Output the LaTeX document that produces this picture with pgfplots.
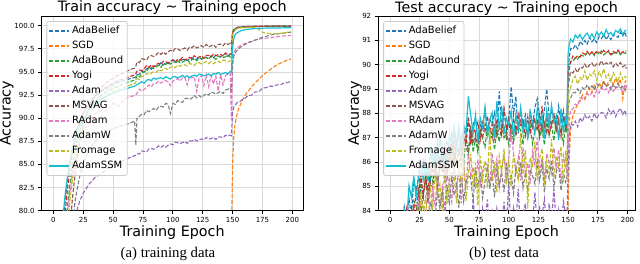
\documentclass[border=0pt]{standalone}
\usepackage{pgfplots}
\pgfplotsset{compat=1.18}
\usepackage{pgfplotstable}
\usepackage{fontspec}
\setmainfont{DejaVu Sans}
\newfontfamily\capfont{Liberation Serif}

\definecolor{cBelief}{HTML}{1F77B4}
\definecolor{cSGD}{HTML}{FF7F0E}
\definecolor{cBound}{HTML}{2CA02C}
\definecolor{cYogi}{HTML}{D62728}
\definecolor{cAdam}{HTML}{9467BD}
\definecolor{cMSVAG}{HTML}{8C564B}
\definecolor{cRAdam}{HTML}{E377C2}
\definecolor{cAdamW}{HTML}{7F7F7F}
\definecolor{cFromage}{HTML}{BCBD22}
\definecolor{cSSM}{HTML}{17BECF}
\definecolor{gridc}{HTML}{DADADA}
\definecolor{legc}{HTML}{CCCCCC}

% ---------------- training accuracy ----------------
\pgfplotstableread{
e abl abd yog adm msv rad adw fro ssm
0 65 60.5 63 45 54.5 59.6 51 57.9 65.7
5 73.2 69 71.5 55 63 68 59.6 66.4 74.2
8 78.3 74 76.6 62 68 73.2 64.7 71.5 79.3
10 81.3 77.5 80.0 66 71.5 76.6 68 75 81.9
12 83.5 80.65 82.55 70 75 80 71.5 78.3 83.85
14 85.4 83.0 84.65 73 78.3 82.2 75 81.3 85.5
16 86.8 84.9 86.3 75.5 81.4 84.0 78.3 83.4 86.7
18 88.0 86.4 87.65 78.5 83.8 85.4 80.9 85.2 87.75
20 89.0 87.7 88.7 80.2 85.8 86.5 82.4 86.6 88.65
22 89.7 88.6 89.6 81.0 87.4 87.4 83.65 87.7 89.2
25 90.5 89.7 90.5 81.9 89.3 88.45 85.1 89.1 89.95
30 91.6 91.0 91.6 82.9 91.2 89.6 86.6 90.4 90.9
35 92.35 91.8 92.45 83.6 92.4 90.4 87.5 91.35 91.5
40 92.9 92.5 93.05 84.0 93.3 90.9 88.1 92.0 92.05
45 93.2 92.9 93.4 84.5 93.9 90.8 88.55 92.5 92.4
50 93.6 93.2 93.8 84.9 94.3 91.65 88.85 92.85 92.7
55 93.9 93.5 94.1 85.2 94.7 91.3 89.1 93.2 92.95
60 94.1 93.8 94.3 85.5 95.0 92.15 89.3 93.4 93.15
65 94.3 94.0 94.55 85.8 95.3 92.35 89.5 93.6 93.35
68 94.4 94.1 94.65 85.95 95.4 92.45 89.7 93.75 93.45
69 94.5 94.2 94.8 86.0 95.6 92.5 87.1 93.9 93.55
70 94.7 94.6 95.1 86.18 96.1 92.7 90.0 94.28 93.62
72 94.76 94.46 95.22 86.12 96.02 93.14 90.22 94.16 93.78
74 95.12 94.82 95.14 86.46 96.44 92.9 90.44 94.52 93.94
76 94.98 95.08 95.36 86.4 96.36 93.12 90.38 94.56 93.78
78 95.34 95.04 95.68 86.34 96.28 93.36 90.84 94.84 94.1
80 95.5 95.5 95.5 86.68 96.7 93.6 90.7 94.72 94.18
82 95.28 95.48 95.76 86.74 96.78 93.38 90.88 94.88 94.06
84 95.66 95.36 95.52 86.64 96.66 93.76 91.06 95.04 94.34
86 95.64 95.54 95.78 86.78 96.84 93.74 90.84 94.96 94.22
88 95.62 95.72 95.94 87.0 97.12 94.02 91.22 95.28 94.34
90 96.0 95.5 95.8 86.82 96.9 93.8 91.3 95.12 94.38
92 95.76 95.86 96.16 87.04 97.16 93.94 91.2 95.26 94.24
94 96.02 95.82 96.12 86.86 96.92 94.08 91.6 95.4 94.5
96 95.88 96.08 95.98 87.08 97.18 93.92 91.5 95.22 94.36
98 96.04 95.84 96.14 87.22 97.34 93.5 90.5 95.52 94.22
100 96.3 96.0 96.3 87.12 97.2 94.0 91.6 95.58 94.48
102 96.24 96.14 96.04 87.4 97.54 94.14 91.5 95.46 94.5
104 96.18 95.98 96.38 87.36 97.48 94.28 91.9 95.74 94.36
106 96.02 96.32 96.32 87.24 97.32 94.02 91.8 95.62 94.46
108 96.36 96.06 96.56 87.36 97.46 94.36 91.7 95.74 94.64
110 96.3 96.2 96.3 87.48 97.6 94.4 92.1 95.78 94.42
112 96.22 96.32 96.44 87.28 97.34 93.6 92.16 95.66 94.6
114 96.44 96.04 96.58 87.56 97.68 94.54 92.02 95.94 94.38
116 96.56 96.36 96.42 87.52 97.62 94.36 92.18 95.82 94.56
118 96.28 96.38 96.76 87.72 97.86 94.48 92.44 95.7 94.66
120 96.4 96.2 96.5 87.52 97.6 92.9 92.2 95.98 94.52
122 96.64 96.54 96.62 87.64 97.72 94.32 92.46 96.0 94.78
124 96.38 96.38 96.74 87.76 97.84 94.64 92.22 95.86 94.72
126 96.62 96.56 96.46 87.64 97.66 93.5 92.48 95.96 94.58
128 96.56 96.56 96.78 87.92 97.98 94.68 92.64 96.14 94.68
130 96.4 96.4 96.8 87.72 97.7 93.4 92.5 95.92 94.78
132 96.72 96.72 96.62 87.82 97.82 94.62 92.84 96.1 94.56
134 96.54 96.54 96.94 87.92 97.94 93.7 92.74 95.88 94.82
136 96.86 96.36 96.74 87.7 97.66 94.56 92.62 96.06 94.76
138 96.68 96.68 96.88 87.96 97.98 92.9 92.76 96.16 94.94
140 96.6 96.7 96.9 87.98 98.0 94.7 92.9 96.02 94.72
142 96.82 96.52 96.72 87.87 97.82 93.6 92.67 96.28 94.82
144 96.95 96.65 97.05 88.16 98.15 94.6 93.05 96.23 94.93
146 96.67 96.87 96.87 88.05 97.97 94.75 93.12 96.09 94.79
148 96.9 96.6 96.95 88.18 98.1 94.9 93.3 96.2 95.06
149 96.85 96.7 96.9 88.1 98.0 89.8 93.0 96.2 95.0
150 99.1 99.0 99.2 90.6 99.3 95.8 95.8 99.0 97.6
151 99.45 99.4 99.5 91.2 99.6 97.0 96.7 99.35 98.6
152 99.65 99.6 99.65 91.4 99.7 97.3 97.0 99.5 99.0
153 99.72 99.68 99.74 91.55 99.78 97.5 97.2 99.6 99.15
154 99.78 99.74 99.8 91.7 99.82 97.6 97.35 99.68 99.25
156 99.83 99.8 99.84 91.8 99.86 97.8 97.6 99.74 99.4
158 99.86 99.84 99.87 92.0 99.88 97.95 97.8 99.78 99.5
160 99.88 99.86 99.89 92.1 99.9 98.05 97.95 99.8 99.56
163 99.9 99.88 99.9 92.45 99.92 98.2 98.15 99.8 99.62
166 99.91 99.9 99.91 92.5 99.93 98.3 98.3 99.82 99.66
169 99.92 99.91 99.92 92.85 99.94 98.45 98.45 99.8 99.7
172 99.93 99.92 99.93 92.85 99.95 98.55 98.6 99.6 99.72
175 99.93 99.93 99.94 93.25 99.95 98.6 98.75 99.3 99.73
178 99.94 99.93 99.94 93.3 99.96 98.65 98.85 99.18 99.74
181 99.94 99.94 99.95 93.45 99.96 98.7 98.95 99.15 99.75
184 99.95 99.94 99.95 93.45 99.96 98.75 99.05 99.12 99.75
187 99.95 99.95 99.95 93.6 99.97 98.8 99.1 99.15 99.76
190 99.95 99.95 99.96 93.6 99.97 98.85 99.15 99.18 99.76
193 99.96 99.95 99.96 93.8 99.97 98.9 99.2 99.22 99.77
196 99.96 99.96 99.96 93.85 99.97 98.92 99.25 99.3 99.77
199 99.96 99.96 99.96 94.0 99.97 98.95 99.3 99.35 99.78
}\trainT

\pgfplotstableread{
e v
0 30
148 76
149 76.5
150 85.0
151 88.0
152 89.3
153 90.0
155 91.0
158 91.9
160 92.4
163 92.9
166 93.4
169 93.85
172 94.2
175 94.6
178 94.9
181 95.2
184 95.5
187 95.75
190 95.95
193 96.1
196 96.3
199 96.4
}\trainSGD

% ---------------- test accuracy ----------------
\pgfplotstableread{
e abl abd yog adm msv rad adw fro ssm
0 75 74 74 70 73 72 71 72 75
8 81.8 80.8 81 78 80.5 80 79.5 80 82
12 84.16 83.52 82.51 81.3 83.06 81.3 80.96 82.99 84.01
14 83.55 82.62 84.03 80.55 82.62 82.53 82.1 81.78 83.54
16 84.48 83.64 83.37 81.4 83.64 83.25 82.06 82.87 85.03
18 83.8 83.06 84.12 80.25 82.78 82.08 83.11 81.99 84.56
20 85.29 84.4 83.67 82.1 84.08 83.4 82.08 83.96 85.42
22 84.75 84.2 84.9 81.26 83.86 83.04 83.41 83.48 84.53
24 85.47 84.0 84.59 82.72 84.83 84.58 82.85 82.89 85.39
26 84.79 85.24 85.47 81.88 83.91 83.12 84.09 84.72 86.04
28 86.14 84.56 84.6 82.44 84.74 84.16 82.99 83.8 85.29
30 85.32 85.56 85.41 81.5 85.22 83.9 83.78 84.64 86.08
32 85.86 84.32 84.78 83.1 84.31 84.82 82.91 83.2 85.2
34 85.21 85.56 85.83 81.9 85.15 83.44 84.38 85.06 86.49
36 86.38 85.2 85.62 82.8 84.94 84.86 83.96 84.06 85.89
38 86.01 86.2 85.41 83.2 86.06 84.18 83.45 85.59 86.55
40 86.83 85.04 86.46 83.1 85.08 85.5 84.92 84.59 85.81
42 85.86 85.86 85.79 82.06 85.81 84.18 84.1 85.09 87.08
44 86.57 86.28 86.59 83.82 85.63 84.96 84.72 83.94 86.18
46 85.88 85.18 85.5 82.78 86.29 83.94 83.54 85.65 86.68
48 86.87 86.08 86.58 83.64 85.34 85.52 85.06 84.28 85.99
50 86.6 85.78 86.26 82.2 86.35 85.0 84.24 85.22 87.12
52 86.33 86.98 87.13 83.24 85.89 84.36 85.47 85.61 86.71
54 87.32 85.78 86.11 83.98 86.83 85.92 84.63 85.45 87.49
56 86.63 86.58 86.84 82.72 85.95 84.98 85.05 84.3 86.52
58 87.41 86.34 87.22 83.66 86.54 85.64 84.12 86.23 87.23
60 86.3 87.06 86.27 82.3 85.87 84.3 85.53 85.08 86.54
62 87.36 85.92 87.03 84.04 87.0 85.94 84.4 86.0 87.51
64 87.02 87.02 86.74 83.08 86.66 84.98 85.16 84.39 87.22
66 87.87 86.44 87.78 83.92 86.25 86.32 85.47 85.53 88.7
68 86.83 87.46 86.72 82.76 87.38 85.36 85.33 86.34 87.9
70 87.54 86.4 87.41 84.5 86.76 85.8 84.38 84.95 87.19
72 87.8 86.95 87.19 83.19 87.12 84.91 85.78 85.95 87.93
74 86.94 86.38 87.63 83.73 86.62 86.11 85.01 84.2 86.78
76 87.58 87.25 86.92 82.74 87.32 85.07 85.57 86.25 87.8
78 87.32 86.96 87.61 84.09 86.98 85.71 84.52 85.25 87.42
80 88.2 86.61 87.25 83.46 87.56 85.95 85.22 86.05 88.23
82 87.24 87.49 87.9 84.46 87.26 85.89 85.81 84.95 87.11
84 87.78 86.94 87.2 83.11 87.42 85.01 84.9 87.4 87.74
86 87.54 87.27 87.55 83.92 86.98 86.37 85.53 85.25 88.02
88 88.02 86.5 87.0 82.93 87.58 85.49 84.55 85.85 86.97
90 87.12 87.38 87.75 84.1 87.06 86.13 85.74 84.75 88.5
92 88.9 86.83 87.45 83.65 87.38 84.93 85.04 86.25 87.32
94 87.42 87.55 87.1 83.2 87.5 85.73 85.6 85.55 88.3
96 88.14 87.0 88.2 84.37 87.42 86.29 84.76 86.55 87.18
98 87.3 87.22 87.35 83.38 86.98 85.25 85.95 85.05 87.81
100 87.72 86.71 87.7 85.2 87.81 86.12 85.07 86.1 87.53
102 89.1 87.54 87.0 82.85 87.37 87.2 85.49 85.0 88.09
104 87.96 86.82 87.8 84.11 87.69 86.36 84.72 86.3 87.04
106 88.7 87.26 87.3 83.57 87.09 85.56 85.77 85.8 87.95
108 87.18 87.43 87.95 84.9 87.49 86.2 85.28 85.3 87.39
110 88.18 87.32 87.45 83.12 87.77 85.24 85.98 87.2 88.23
112 87.58 86.71 87.65 83.93 87.25 86.6 84.93 85.5 87.25
114 87.94 87.65 87.1 84.29 87.61 85.48 85.56 86.5 87.74
116 87.1 87.04 87.85 82.94 87.05 85.96 84.79 84.1 87.02
118 88.06 87.48 87.2 83.84 87.73 85.08 85.7 86.2 88.07
120 87.46 86.75 87.65 83.49 87.43 86.43 85.45 85.75 87.65
122 88.24 87.31 87.8 84.75 87.75 85.87 85.1 86.85 87.16
124 88.6 87.69 87.7 83.31 87.27 87.0 86.01 85.25 88.21
126 87.88 86.98 87.15 84.12 87.95 85.47 85.24 86.15 87.51
128 87.22 87.47 88.3 83.76 87.39 86.19 85.94 86.55 87.93
130 88.17 86.7 87.45 84.48 87.63 85.31 84.75 85.05 86.95
132 89.0 87.64 87.85 83.13 87.19 86.35 85.73 86.05 88.12
134 87.87 87.09 87.1 84.3 87.79 85.95 85.31 85.55 87.42
136 88.05 87.53 87.6 83.58 87.51 85.55 86.08 86.95 88.33
138 87.93 86.87 87.95 84.9 87.91 86.59 84.96 85.35 87.63
140 87.27 87.8 87.3 83.4 87.31 85.71 85.59 86.25 87.91
142 88.29 87.03 87.75 84.03 87.67 86.51 85.87 85.85 86.9
144 87.63 87.36 87.05 83.04 87.23 85.15 84.82 86.65 88.19
146 88.11 86.76 87.9 84.39 87.75 86.27 85.52 85.15 87.28
148 87.21 87.58 87.4 83.85 87.55 85.79 85.17 86.45 87.84
149 87.8 87.2 87.6 83.5 87.7 85.6 85.4 85.8 87.5
150 89.9 89.4 89.6 85.8 89.1 86.8 88.2 88.6 90.5
151 90.3 89.85 90.0 87.0 89.45 87.6 88.55 89.0 90.85
152 90.67 90.14 90.08 87.56 89.7 88.14 88.61 89.03 91.05
154 90.63 90.14 90.35 87.51 89.66 88.18 88.85 89.4 90.93
156 90.81 90.28 90.26 87.68 89.83 88.38 88.84 89.53 91.22
158 90.65 90.22 90.37 87.45 89.68 88.32 89.01 89.2 91.09
160 90.96 90.4 90.31 87.82 89.9 88.64 88.83 89.48 91.24
162 90.84 90.37 90.48 87.65 89.86 88.6 89.06 89.37 91.03
164 90.99 90.34 90.43 87.94 90.02 88.55 88.97 89.74 91.19
166 90.84 90.49 90.55 87.77 89.86 88.82 89.18 89.36 91.3
168 91.12 90.4 90.42 87.88 89.99 88.72 88.99 89.61 91.12
170 90.94 90.52 90.53 87.69 90.07 88.86 89.13 89.53 91.26
172 91.05 90.37 90.43 88.01 89.9 88.68 88.99 89.74 91.07
174 90.91 90.51 90.56 87.77 90.03 88.95 89.22 89.37 91.34
176 91.15 90.45 90.51 87.95 89.98 88.83 89.14 89.71 91.21
178 91.07 90.56 90.46 88.03 90.16 89.06 89.04 89.52 91.34
180 91.24 90.4 90.59 88.01 89.98 88.94 89.27 89.83 91.18
182 91.03 90.49 90.48 87.81 90.08 89.01 89.1 89.46 91.44
184 91.18 90.53 90.58 88.17 90.02 88.85 89.18 89.61 91.24
186 91.03 90.38 90.41 87.97 90.1 89.09 88.97 89.32 91.33
188 91.24 90.48 90.55 88.15 89.91 88.9 89.2 89.67 91.18
190 91.18 90.43 90.49 87.87 90.06 89.03 89.04 89.5 91.41
192 91.12 90.57 90.6 88.07 89.95 89.09 89.22 89.31 91.32
194 91.33 90.41 90.44 88.21 90.09 89.07 89.05 89.66 91.47
196 91.18 90.5 90.53 87.95 89.91 88.91 89.1 89.39 91.25
198 91.35 90.46 90.57 88.13 89.98 89.18 88.94 89.52 91.4
199 91.1 90.54 90.56 87.85 89.84 89.02 89.15 89.45 91.42
}\testT

\pgfplotstableread{
e v
0 70
148 82.0
149 82.2
150 84.3
151 86.3
152 87.3
154 87.9
156 88.15
158 88.4
160 88.5
162 88.75
164 88.6
166 88.9
168 89.05
170 88.85
172 89.15
174 88.95
176 89.25
178 89.1
180 89.35
182 89.1
184 89.3
186 89.4
188 89.15
190 89.45
192 89.2
194 89.4
196 88.6
198 89.3
199 89.35
}\testSGD

\pgfplotsset{
  accaxis/.style={
    scale only axis, anchor=south west, height=194.7pt,
    xmin=-9.95,
    xtick={0,25,...,200},
    grid=major,
    major grid style={line width=0.8pt, draw=gridc},
    axis line style={line width=0.8pt},
    tick align=outside, tick pos=left,
    major tick length=3.5pt,
    every tick/.style={black, line width=0.8pt},
    ticklabel style={font=\fontsize{7}{8}\selectfont},
    /pgf/number format/assume math mode=true,
    every axis title shift=0pt,
    title style={font=\fontsize{14.3}{15}\selectfont, anchor=base, at={(0.5,1)}, yshift=4pt},
    xlabel={Training Epoch},
    ylabel={Accuracy},
    xlabel style={font=\fontsize{14.3}{15}\selectfont, at={(axis description cs:0.5,-0.1335)}, anchor=base},
    legend cell align=left,
    legend style={anchor=north west, draw=legc, line width=0.8pt, fill=white,
      fill opacity=0.8, draw opacity=1, text opacity=1, rounded corners=2pt,
      font=\fontsize{10}{10}\selectfont, inner xsep=2pt, inner ysep=2pt, row sep=0pt,
      nodes={text height=7.5pt, text depth=2.5pt, inner ysep=2.5pt}},
    legend image code/.code={\draw[#1] (0pt,0pt) -- (20pt,0pt);},
  },
  dsh/.style={line width=1.1pt, dash pattern=on 4pt off 1.8pt},
  sld/.style={line width=1.2pt},
}

\begin{document}
\begin{tikzpicture}
\useasboundingbox (0,0) rectangle (640pt,264pt);

\begin{axis}[accaxis,
  at={(41.5pt,53.3pt)}, width=261.5pt,
  xmax=208.95, ymin=80, ymax=101.05,
  ytick={80,82.5,...,100},
  yticklabel style={/pgf/number format/.cd, fixed, fixed zerofill, precision=1},
  title={Train accuracy \textasciitilde{} Training epoch},
  ylabel style={font=\fontsize{14.3}{15}\selectfont, at={(axis description cs:-0.132,0.5)}, anchor=center},
  legend style={at={(0.019,0.974)}},
]
\addplot[cBelief, dsh] table[x=e,y=abl]{\trainT}; \addlegendentry{AdaBelief}
\addplot[cSGD, dsh] table[x=e,y=v]{\trainSGD}; \addlegendentry{SGD}
\addplot[cBound, dsh] table[x=e,y=abd]{\trainT}; \addlegendentry{AdaBound}
\addplot[cYogi, dsh] table[x=e,y=yog]{\trainT}; \addlegendentry{Yogi}
\addplot[cAdam, dsh] table[x=e,y=adm]{\trainT}; \addlegendentry{Adam}
\addplot[cMSVAG, dsh] table[x=e,y=msv]{\trainT}; \addlegendentry{MSVAG}
\addplot[cRAdam, dsh] table[x=e,y=rad]{\trainT}; \addlegendentry{RAdam}
\addplot[cAdamW, dsh] table[x=e,y=adw]{\trainT}; \addlegendentry{AdamW}
\addplot[cFromage, dsh] table[x=e,y=fro]{\trainT}; \addlegendentry{Fromage}
\addplot[cSSM, sld] table[x=e,y=ssm]{\trainT}; \addlegendentry{AdamSSM}
\end{axis}

\begin{axis}[accaxis,
  at={(378.2pt,53.3pt)}, width=256.8pt,
  xmax=206.3, ymin=84, ymax=92,
  ytick={84,85,...,92},
  title={Test accuracy \textasciitilde{} Training epoch},
  ylabel style={font=\fontsize{14.3}{15}\selectfont, at={(axis description cs:-0.0896,0.5)}, anchor=center},
  legend style={at={(0.0195,0.974)}},
]
\addplot[cBelief, dsh] table[x=e,y=abl]{\testT}; \addlegendentry{AdaBelief}
\addplot[cSGD, dsh] table[x=e,y=v]{\testSGD}; \addlegendentry{SGD}
\addplot[cBound, dsh] table[x=e,y=abd]{\testT}; \addlegendentry{AdaBound}
\addplot[cYogi, dsh] table[x=e,y=yog]{\testT}; \addlegendentry{Yogi}
\addplot[cAdam, dsh] table[x=e,y=adm]{\testT}; \addlegendentry{Adam}
\addplot[cMSVAG, dsh] table[x=e,y=msv]{\testT}; \addlegendentry{MSVAG}
\addplot[cRAdam, dsh] table[x=e,y=rad]{\testT}; \addlegendentry{RAdam}
\addplot[cAdamW, dsh] table[x=e,y=adw]{\testT}; \addlegendentry{AdamW}
\addplot[cFromage, dsh] table[x=e,y=fro]{\testT}; \addlegendentry{Fromage}
\addplot[cSSM, sld] table[x=e,y=ssm]{\testT}; \addlegendentry{AdamSSM}
\end{axis}

\node[font=\capfont\fontsize{14.8}{15}\selectfont, anchor=base] at (168pt,6.7pt) {(a) training data};
\node[font=\capfont\fontsize{14.8}{15}\selectfont, anchor=base] at (504pt,6.7pt) {(b) test data};
\end{tikzpicture}
\end{document}
